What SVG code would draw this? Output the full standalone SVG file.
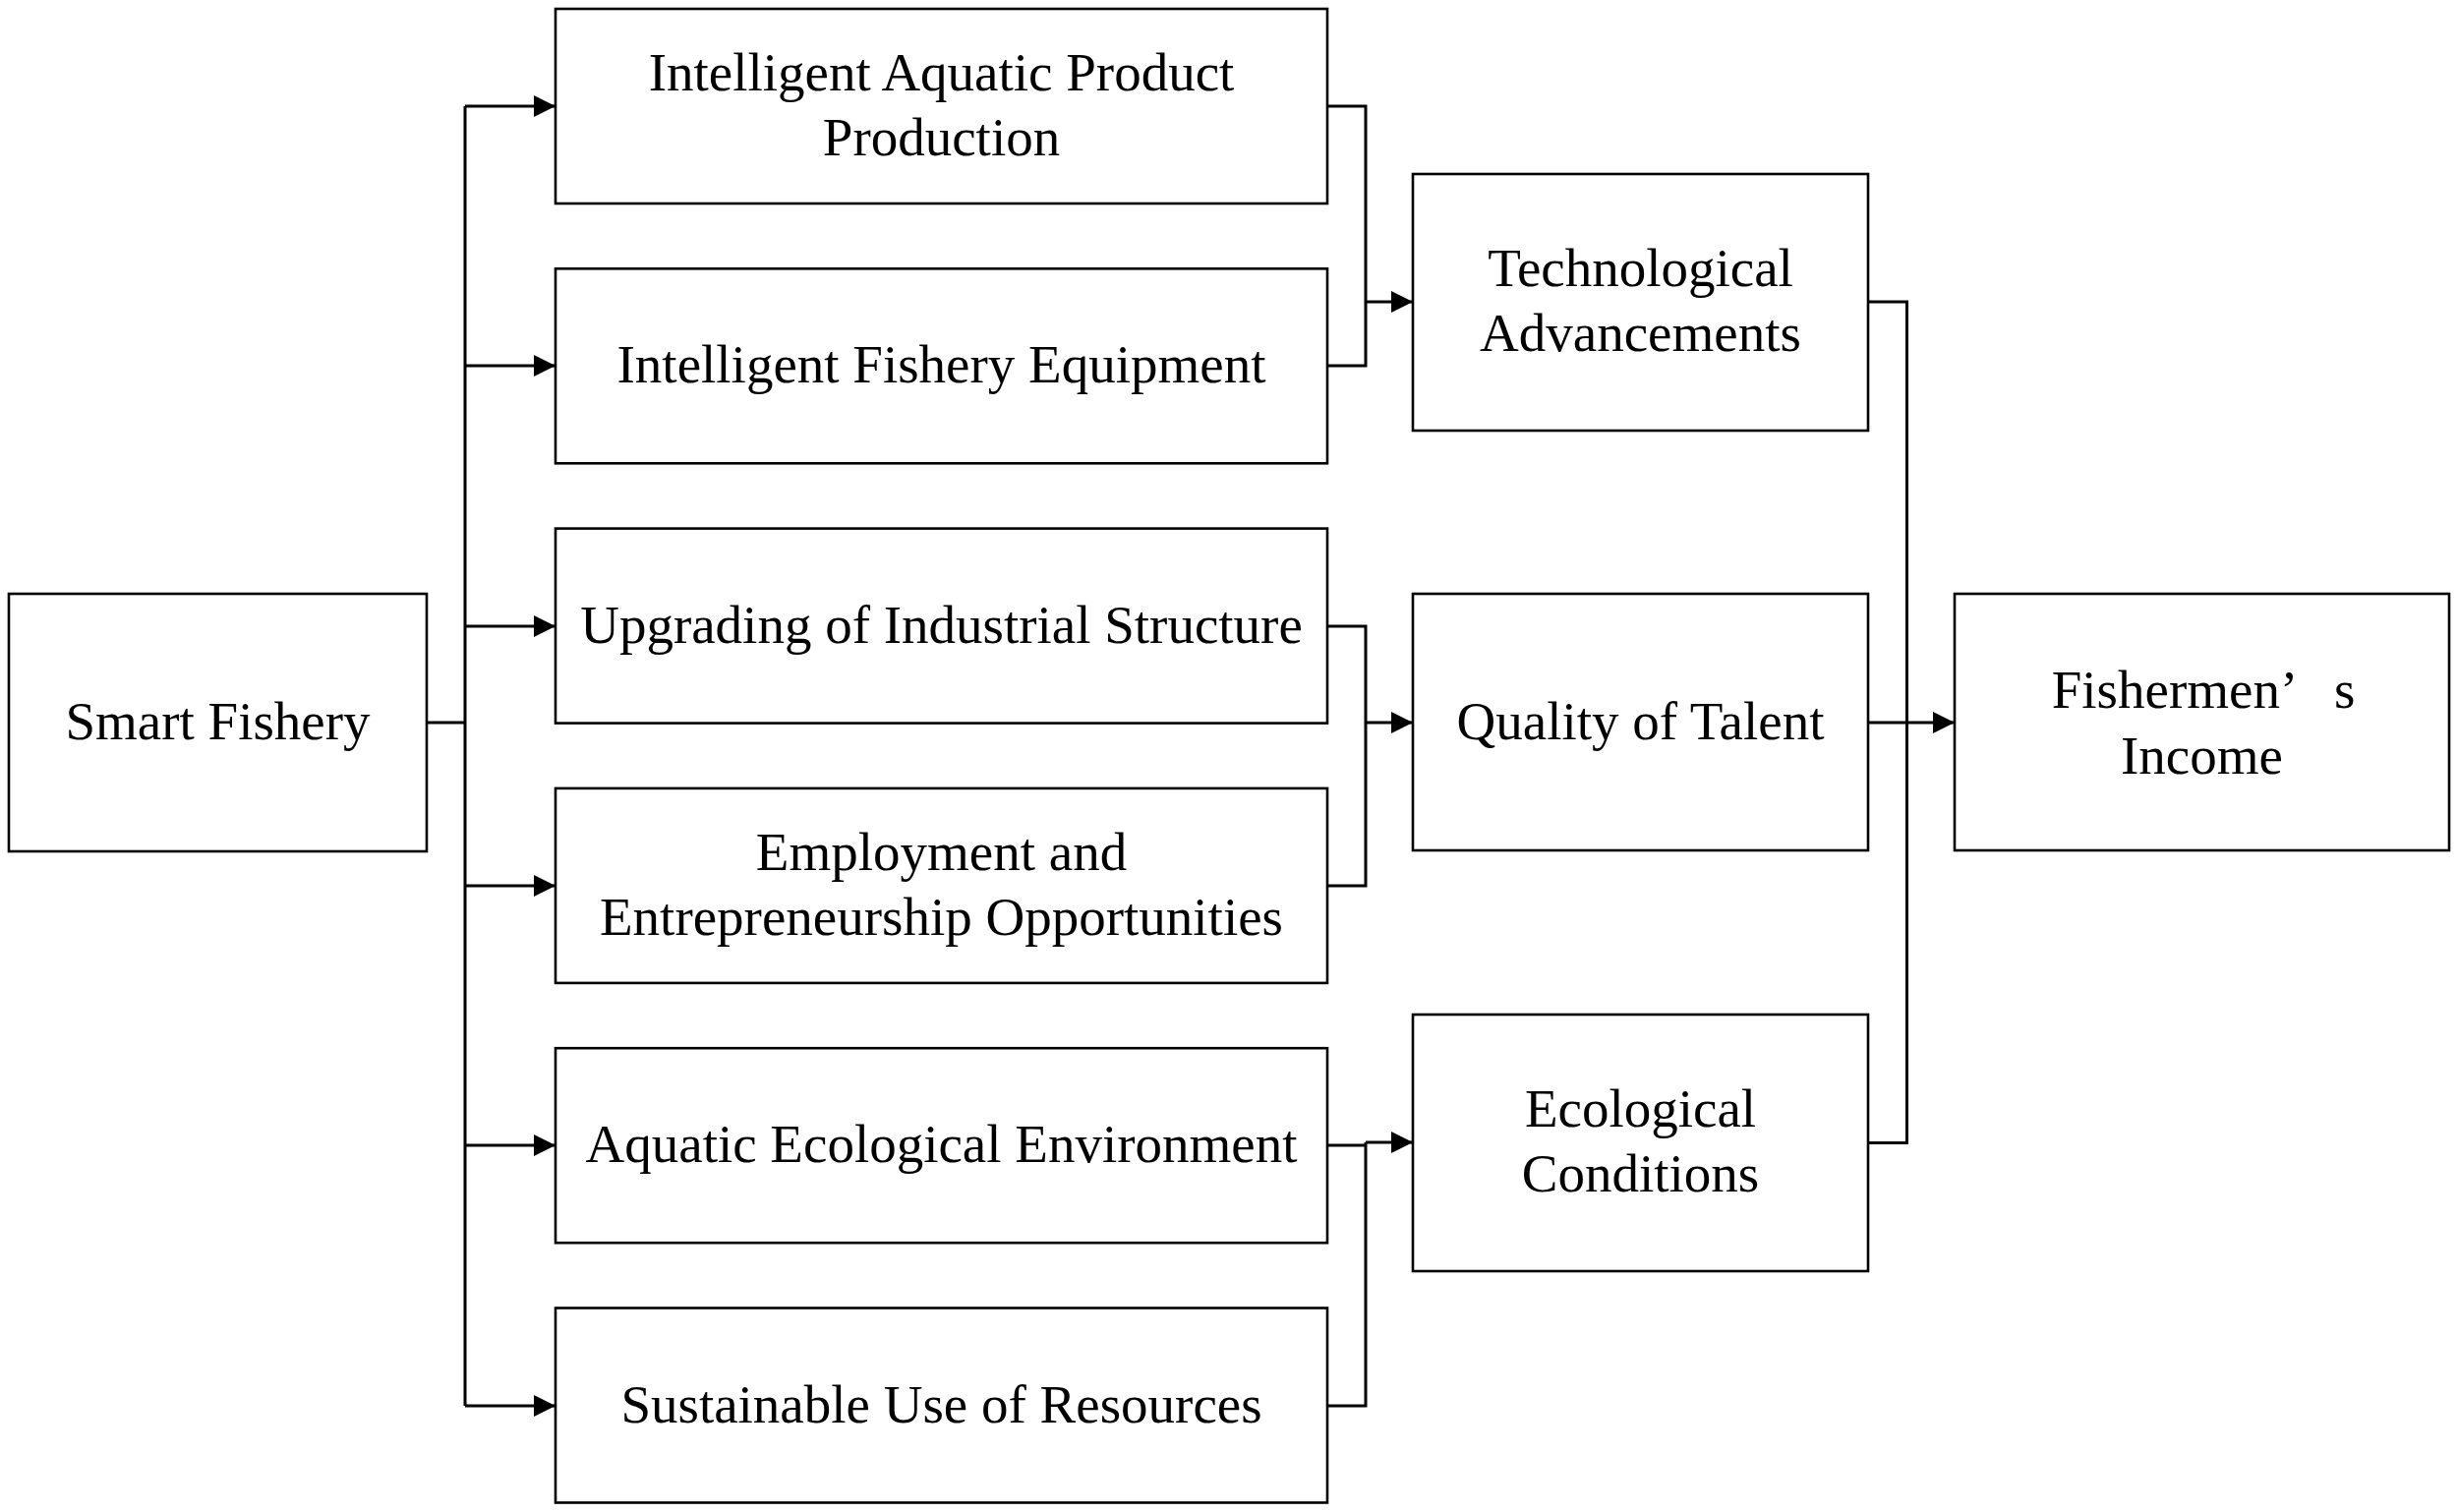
<svg xmlns="http://www.w3.org/2000/svg" width="2500" height="1538" viewBox="0 0 2500 1538">
<style>
.box{fill:#ffffff;stroke:#000000;stroke-width:2.6}
.lbl{font-family:"Liberation Serif","Times New Roman",serif;font-size:55px;fill:#000000;text-anchor:middle}
.ln{fill:none;stroke:#000000;stroke-width:3}
.arr{fill:none;stroke:#000000;stroke-width:3;marker-end:url(#ah)}
</style>
<defs>
<marker id="ah" markerUnits="userSpaceOnUse" markerWidth="24" markerHeight="24" refX="22" refY="11" orient="auto">
<path d="M0,0 L22,11 L0,22 Z" fill="#000000"/>
</marker>
</defs>
<rect width="2500" height="1538" fill="#ffffff"/>
<g id="connectors">
<path class="ln" d="M434,735 H473"/>
<path class="ln" d="M473,108 V1430"/>
<path class="arr" d="M473,108 H565"/>
<path class="arr" d="M473,372 H565"/>
<path class="arr" d="M473,637 H565"/>
<path class="arr" d="M473,901 H565"/>
<path class="arr" d="M473,1165 H565"/>
<path class="arr" d="M473,1430 H565"/>
<path class="ln" d="M1350,108 H1389 V372 H1350"/>
<path class="arr" d="M1389,307 H1437"/>
<path class="ln" d="M1350,637 H1389 V901 H1350"/>
<path class="arr" d="M1389,735 H1437"/>
<path class="ln" d="M1350,1165 H1389"/>
<path class="ln" d="M1350,1430 H1389 V1162"/>
<path class="arr" d="M1389,1162 H1437"/>
<path class="ln" d="M1900,307 H1939.5 V1162.5 H1900"/>
<path class="arr" d="M1900,735 H1988"/>
</g>
<g id="smart-fishery">
<rect class="box" x="9" y="604" width="425" height="262"/>
<text class="lbl" x="221.5" y="752">Smart Fishery</text>
</g>
<g id="intelligent-aquatic-product-production">
<rect class="box" x="565" y="9" width="785" height="198"/>
<text class="lbl" x="957.5" y="92">Intelligent Aquatic Product</text>
<text class="lbl" x="957.5" y="158">Production</text>
</g>
<g id="intelligent-fishery-equipment">
<rect class="box" x="565" y="273.3" width="785" height="198"/>
<text class="lbl" x="957.5" y="389">Intelligent Fishery Equipment</text>
</g>
<g id="upgrading-of-industrial-structure">
<rect class="box" x="565" y="537.6" width="785" height="198"/>
<text class="lbl" x="957.5" y="654">Upgrading of Industrial Structure</text>
</g>
<g id="employment-and-entrepreneurship">
<rect class="box" x="565" y="801.9" width="785" height="198"/>
<text class="lbl" x="957.5" y="885">Employment and</text>
<text class="lbl" x="957.5" y="951">Entrepreneurship Opportunities</text>
</g>
<g id="aquatic-ecological-environment">
<rect class="box" x="565" y="1066.2" width="785" height="198"/>
<text class="lbl" x="957.5" y="1182">Aquatic Ecological Environment</text>
</g>
<g id="sustainable-use-of-resources">
<rect class="box" x="565" y="1330.5" width="785" height="198"/>
<text class="lbl" x="957.5" y="1447">Sustainable Use of Resources</text>
</g>
<g id="technological-advancements">
<rect class="box" x="1437" y="177" width="463" height="261"/>
<text class="lbl" x="1668.5" y="291">Technological</text>
<text class="lbl" x="1668.5" y="357">Advancements</text>
</g>
<g id="quality-of-talent">
<rect class="box" x="1437" y="604" width="463" height="261"/>
<text class="lbl" x="1668.5" y="752">Quality of Talent</text>
</g>
<g id="ecological-conditions">
<rect class="box" x="1437" y="1032" width="463" height="261"/>
<text class="lbl" x="1668.5" y="1146">Ecological</text>
<text class="lbl" x="1668.5" y="1212">Conditions</text>
</g>
<g id="fishermens-income">
<rect class="box" x="1988" y="604" width="503" height="261"/>
<text class="lbl" x="2241" y="720" word-spacing="27">Fishermen’ s</text>
<text class="lbl" x="2239.5" y="787">Income</text>
</g>
</svg>
